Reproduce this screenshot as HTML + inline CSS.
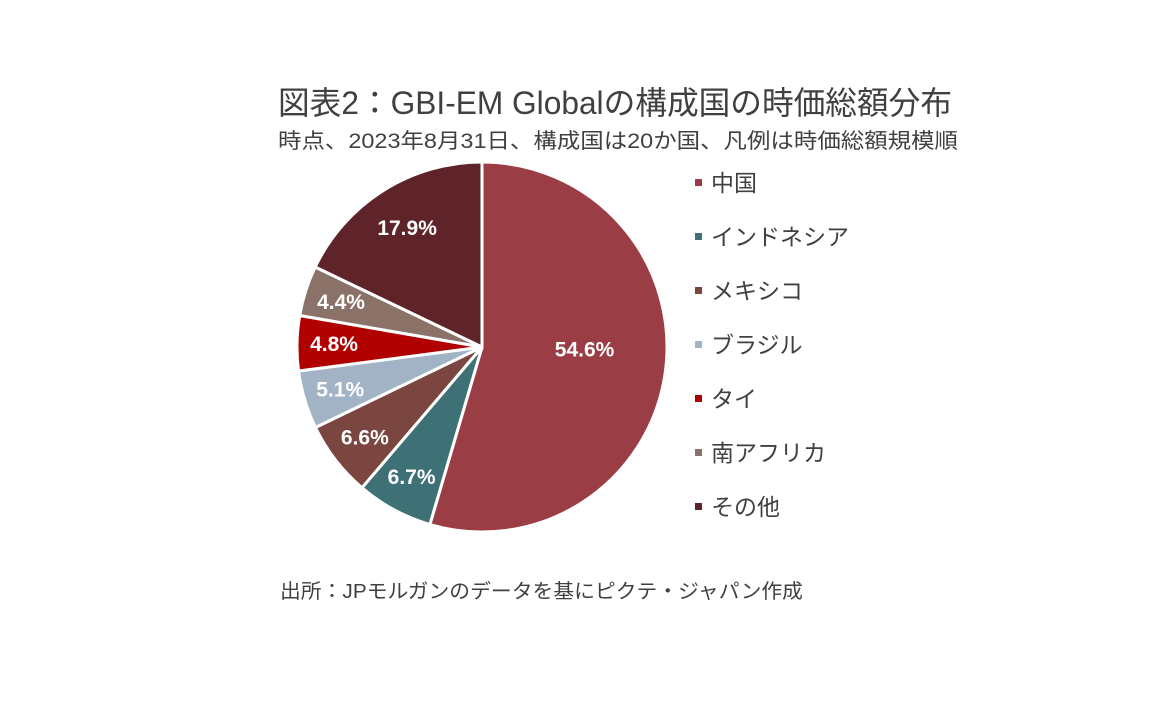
<!DOCTYPE html>
<html><head><meta charset="utf-8"><style>
html,body{margin:0;padding:0;background:#fff;width:1152px;height:720px;overflow:hidden}
text{font-family:"Liberation Sans","Noto Sans CJK JP",sans-serif}
</style></head><body>
<svg id="chart" width="1152" height="720">
<text x="278" y="114" font-size="32" fill="#404040" textLength="674" lengthAdjust="spacingAndGlyphs">図表2：GBI-EM Globalの構成国の時価総額分布</text>
<text x="278" y="148" font-size="21" fill="#404040" textLength="680" lengthAdjust="spacingAndGlyphs">時点、2023年8月31日、構成国は20か国、凡例は時価総額規模順</text>
<text x="280" y="598" font-size="20" fill="#404040" textLength="523" lengthAdjust="spacingAndGlyphs">出所：JPモルガンのデータを基にピクテ・ジャパン作成</text>
<g id="slices"></g><g id="labels"></g><g id="legend"></g>
</svg>
<script>
const categories=["中国","インドネシア","メキシコ","ブラジル","タイ","南アフリカ","その他"];
const values=[54.6,6.7,6.6,5.1,4.8,4.4,17.9];
const valueLabels=["54.6%","6.7%","6.6%","5.1%","4.8%","4.4%","17.9%"];
const colors=["#9b3d45","#3e7176","#7b4640","#a3b3c6","#b00000","#8b7268","#5e2429"];
const cx=482,cy=347,R=185,NS="http://www.w3.org/2000/svg";
const total=values.reduce((a,b)=>a+b,0);
function pt(a,r){return [cx+r*Math.sin(a),cy-r*Math.cos(a)];}
let a0=0;
const sg=document.getElementById('slices'),lg=document.getElementById('labels'),leg=document.getElementById('legend');
values.forEach((v,i)=>{
 const a1=a0+v/total*2*Math.PI;
 const p0=pt(a0,R),p1=pt(a1,R);
 const path=document.createElementNS(NS,'path');
 path.setAttribute('d',`M${cx},${cy}L${p0[0]},${p0[1]}A${R},${R} 0 ${a1-a0>Math.PI?1:0} 1 ${p1[0]},${p1[1]}Z`);
 path.setAttribute('fill',colors[i]);path.setAttribute('stroke','#fff');path.setAttribute('stroke-width','3');
 
 
 sg.appendChild(path);
 const f=i===0?0.56:(i===6?0.76:0.8);
 const lp=pt((a0+a1)/2,R*f);
 const t=document.createElementNS(NS,'text');
 t.setAttribute('x',lp[0]);t.setAttribute('y',lp[1]+7-(i===0?12:0));t.setAttribute('text-anchor','middle');
 t.setAttribute('font-size','21');t.setAttribute('font-weight','bold');t.setAttribute('fill','#fff');
 t.textContent=valueLabels[i];
 
 
 lg.appendChild(t);
 const y=183+i*54;
 const r=document.createElementNS(NS,'rect');
 r.setAttribute('x',695);r.setAttribute('y',y-4);r.setAttribute('width',7);r.setAttribute('height',7);r.setAttribute('fill',colors[i]);
 
 
 leg.appendChild(r);
 const lt=document.createElementNS(NS,'text');
 lt.setAttribute('x',711);lt.setAttribute('y',y+8);lt.setAttribute('font-size','23');lt.setAttribute('fill','#404040');
 lt.textContent=categories[i];
 
 
 leg.appendChild(lt);
 a0=a1;
});
</script>
</body></html>
